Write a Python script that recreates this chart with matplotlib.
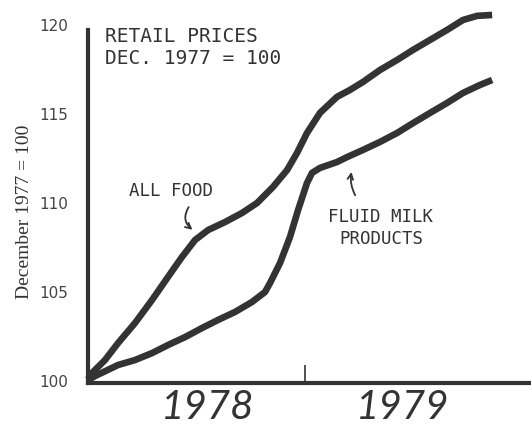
import matplotlib
matplotlib.use('Agg')
import matplotlib.pyplot as plt

# months since Dec 1977, index values
food_months = [0, 0.22, 0.94, 1.66, 2.60, 3.54, 4.42, 5.20, 5.92, 6.64, 7.58, 8.52,
               9.35, 10.23, 11.01, 11.56, 12.11, 12.83, 13.77, 14.49, 15.21, 16.15,
               17.09, 17.98, 18.92, 19.86, 20.74, 21.52, 22.35]
food_index = [100.1, 100.45, 101.18, 102.13, 103.26, 104.55, 105.84, 106.97, 107.92,
              108.48, 108.93, 109.44, 110.0, 110.9, 111.85, 112.81, 113.93, 115.06,
              115.96, 116.35, 116.80, 117.47, 118.03, 118.60, 119.16, 119.72, 120.28,
              120.51, 120.56]

milk_months = [0, 0.39, 1.66, 2.60, 3.54, 4.42, 5.37, 6.31, 7.19, 8.13, 9.07, 9.79,
               10.07, 10.62, 11.17, 11.62, 12.11, 12.39, 12.83, 13.77, 14.33, 15.21,
               16.15, 17.09, 17.98, 18.92, 19.86, 20.74, 21.68, 22.35]
milk_index = [100.05, 100.28, 100.9, 101.18, 101.57, 102.02, 102.47, 102.98, 103.43,
              103.88, 104.44, 105.0, 105.51, 106.63, 108.09, 109.61, 111.12, 111.69,
              111.97, 112.3, 112.58, 112.98, 113.43, 113.93, 114.49, 115.06, 115.62,
              116.18, 116.63, 116.91]

yticks = [100, 105, 110, 115, 120]
year_labels = ['1978', '1979']
year_centers = [6.6, 17.4]

ink = '#333333'

fig = plt.figure(figsize=(5.31, 4.25), dpi=100)
ax = fig.add_axes([88 / 531, 42 / 425, 443 / 531, 378 / 425])

for mx, my in [(food_months, food_index), (milk_months, milk_index)]:
    ax.plot(mx, my, color=ink, lw=4.8, solid_capstyle='butt',
            solid_joinstyle='round', clip_on=False)

ax.set_xlim(0, 24.5)
ax.set_ylim(99.89, 121.12)

for s in ['top', 'right']:
    ax.spines[s].set_visible(False)
for s in ['left', 'bottom']:
    ax.spines[s].set_linewidth(3)
    ax.spines[s].set_color(ink)
ax.spines['left'].set_bounds(99.89, 119.7)

ax.set_yticks(yticks)
ax.set_yticklabels([str(v) for v in yticks], fontsize=11, color='#444444')
ax.tick_params(axis='y', length=0, pad=14)
ax.set_xticks([12])
ax.set_xticklabels([''])
ax.tick_params(axis='x', direction='in', length=13, width=1.2, color=ink)

for lab, xc in zip(year_labels, year_centers):
    ax.text(xc, 97.85, lab, ha='center', va='baseline', fontsize=29, style='italic',
            family=['Lato', 'DejaVu Sans'], fontweight='normal', color=ink)

fig.text(25 / 531, 1 - 212 / 425, 'December 1977 = 100', rotation=90,
         ha='center', va='center', fontsize=14, family='Liberation Serif', color=ink)

mono = 'DejaVu Sans Mono'
ax.text(0.95, 119.9, 'RETAIL PRICES\nDEC. 1977 = 100', ha='left', va='top',
        fontsize=14, family=mono, color=ink, linespacing=1.2)
ax.text(4.6, 110.7, 'ALL FOOD', ha='center', va='center', fontsize=12.5,
        family=mono, color=ink)
ax.text(16.2, 108.6, 'FLUID MILK\nPRODUCTS', ha='center', va='center',
        fontsize=12.5, family=mono, color=ink, linespacing=1.3)

ax.annotate('', xy=(5.9, 108.4), xytext=(5.65, 109.9),
            arrowprops=dict(arrowstyle='->', color=ink, lw=1.3,
                            connectionstyle='arc3,rad=0.5'))
ax.annotate('', xy=(14.6, 111.9), xytext=(14.85, 110.3),
            arrowprops=dict(arrowstyle='->', color=ink, lw=1.3,
                            connectionstyle='arc3,rad=-0.2'))

fig.savefig('out.png', dpi=100, facecolor='white')
